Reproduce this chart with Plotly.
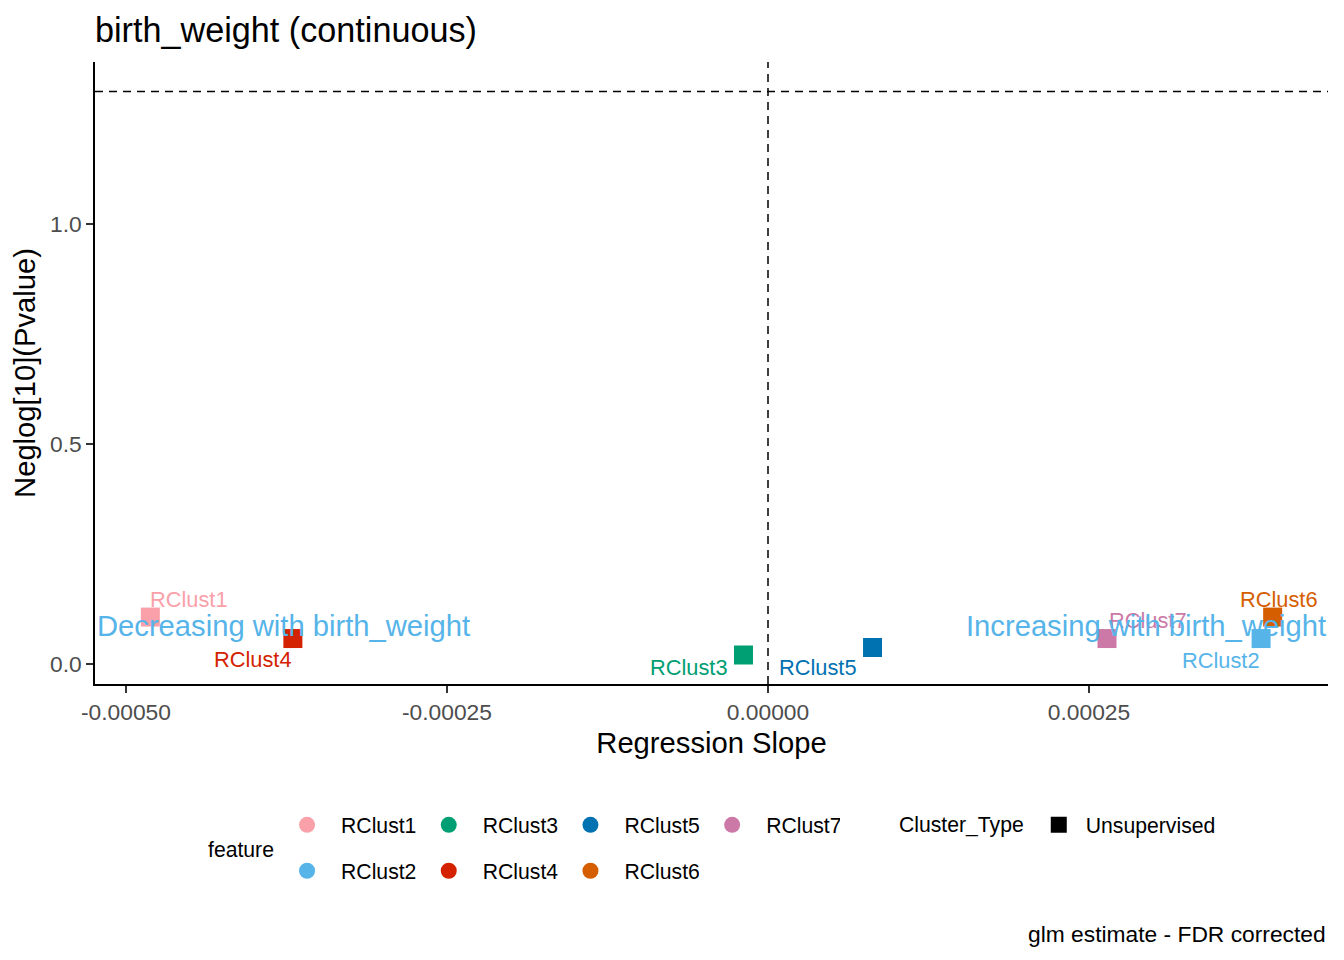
import math
import plotly.graph_objects as go

# values
features = ["RClust1", "RClust2", "RClust3", "RClust4", "RClust5", "RClust6", "RClust7"]
slope = [-0.000481, 0.000384, -0.0000191, -0.000370, 0.0000814, 0.000393, 0.000264]
neglog_p = [0.1066, 0.0578, 0.0204, 0.0578, 0.0374, 0.1066, 0.0578]
cluster_type = ["Unsupervised"] * 7

x_ticks = [-0.0005, -0.00025, 0.0, 0.00025]
y_ticks = [0.0, 0.5, 1.0]
p_cut = 0.05

colors = {
    "RClust1": "#F9A0A9",
    "RClust2": "#56B4E9",
    "RClust3": "#009E73",
    "RClust4": "#D42200",
    "RClust5": "#0072B2",
    "RClust6": "#D55E00",
    "RClust7": "#CC79A7",
}
# where the repelled text labels ended up, in px from the point
label_shift = {
    "RClust1": (39, 18),
    "RClust2": (-40, -22),
    "RClust3": (-54, -12),
    "RClust4": (-40, -21),
    "RClust5": (-55, -20),
    "RClust6": (6, 18),
    "RClust7": (41, 18),
}

FONT = "Arial, Liberation Sans, sans-serif"
fig = go.Figure()

for f, x, y in zip(features, slope, neglog_p):
    fig.add_trace(go.Scatter(
        x=[x], y=[y], mode="markers", showlegend=False,
        marker=dict(symbol="square", size=19, color=colors[f]),
        hovertemplate=f + "<br>%{x}<br>%{y}<extra></extra>",
    ))
    dx, dy = label_shift[f]
    fig.add_annotation(x=x, y=y, text=f, showarrow=False, xshift=dx, yshift=dy,
                       font=dict(family=FONT, size=21.8, color=colors[f]))

# legend-only keys (circles like the ggplot legend)
row1 = ["RClust1", "RClust3", "RClust5", "RClust7"]
row2 = ["RClust2", "RClust4", "RClust6"]
for f in row1 + row2:
    fig.add_trace(go.Scatter(
        x=[None], y=[None], mode="markers", name=f,
        legend="legend" if f in row1 else "legend3",
        marker=dict(symbol="circle", size=18, color=colors[f]),
    ))
fig.add_trace(go.Scatter(
    x=[None], y=[None], mode="markers", name=cluster_type[0], legend="legend2",
    marker=dict(symbol="square", size=18, color="black"),
))

fig.add_vline(x=0, line=dict(color="black", width=1.5, dash="8px,6px"))
fig.add_hline(y=-math.log10(p_cut), line=dict(color="black", width=1.5, dash="8px,6px"))

big = dict(family=FONT, size=29.2, color="#56B4E9")
fig.add_annotation(xref="paper", x=0, y=0.086, xanchor="left", showarrow=False,
                   text="Decreasing with birth_weight", font=big)
fig.add_annotation(xref="paper", x=1, y=0.086, xanchor="right", showarrow=False,
                   text="Increasing with birth_weight", font=big)

fig.add_annotation(xref="paper", yref="paper", x=0.1184, y=-0.2654, showarrow=False,
                   text="feature", xanchor="center", yanchor="middle",
                   font=dict(family=FONT, size=21.2, color="black"))
fig.add_annotation(xref="paper", yref="paper", x=1, y=-0.402, showarrow=False,
                   text="glm estimate - FDR corrected", xanchor="right", yanchor="middle",
                   font=dict(family=FONT, size=22.8, color="black"))

leg = dict(orientation="h", xanchor="left", yanchor="middle", bgcolor="rgba(0,0,0,0)",
           font=dict(family=FONT, size=21.2, color="black"), itemsizing="trace",
           itemwidth=58, entrywidth=68.7, entrywidthmode="pixels")

fig.update_layout(
    width=1328, height=944,
    margin=dict(l=87, r=8, t=54, b=268),
    plot_bgcolor="white", paper_bgcolor="white",
    font=dict(family=FONT, color="black"),
    title=dict(text="birth_weight (continuous)", x=0, xref="paper", xanchor="left",
               y=1 - 22 / 944, yanchor="middle", font=dict(size=34.2, color="black")),
    xaxis=dict(
        range=[-0.0005241, 0.0004361], tickvals=x_ticks,
        ticktext=[f"{v:.5f}" for v in x_ticks],
        showline=True, linecolor="black", linewidth=1.5, showgrid=False, zeroline=False,
        ticks="outside", ticklen=7, tickwidth=1.5, tickcolor="#333333",
        tickfont=dict(size=22.8, color="#4D4D4D"),
        title=dict(text="Regression Slope", font=dict(size=29.2), standoff=8),
    ),
    yaxis=dict(
        range=[-0.0455, 1.368], tickvals=y_ticks,
        ticktext=[f"{v:.1f}" for v in y_ticks],
        showline=True, linecolor="black", linewidth=1.5, showgrid=False, zeroline=False,
        ticks="outside", ticklen=7, tickwidth=1.5, tickcolor="#333333",
        tickfont=dict(size=22.8, color="#4D4D4D"),
        title=dict(text="Neglog[10](Pvalue)", font=dict(size=29.2), standoff=6),
    ),
    legend=dict(leg, x=0.1444, y=-0.2267),
    legend3=dict(leg, x=0.1444, y=-0.3006),
    legend2=dict(leg, x=0.6504, y=-0.2267, entrywidth=0, itemwidth=44,
                 title=dict(text="Cluster_Type", side="left",
                            font=dict(family=FONT, size=21.2, color="black"))),
)

fig.write_html("out.html")
